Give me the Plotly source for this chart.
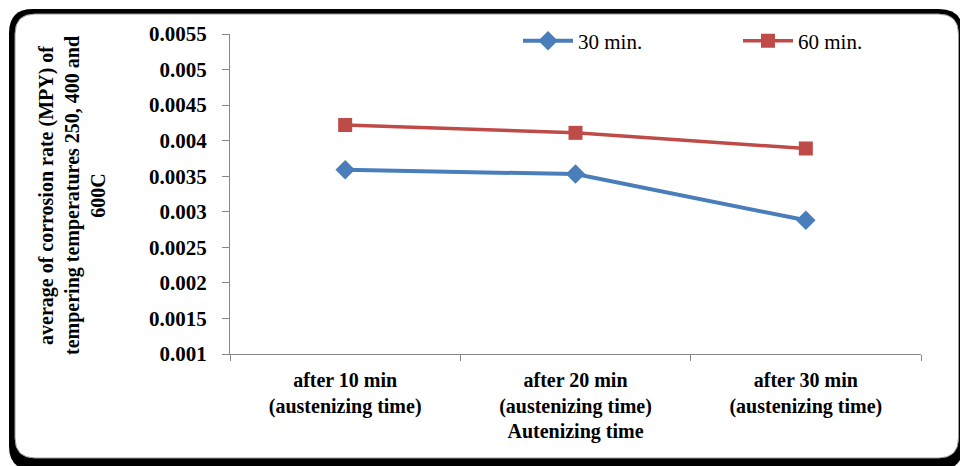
import plotly.graph_objects as go

categories = ["after 10 min<br>(austenizing time)", "after 20 min<br>(austenizing time)", "after 30 min<br>(austenizing time)"]
positions = [1, 2, 3]
series_30 = [0.00359, 0.00353, 0.00288]
series_60 = [0.00422, 0.00411, 0.00389]
y_ticks = [0.001, 0.0015, 0.002, 0.0025, 0.003, 0.0035, 0.004, 0.0045, 0.005, 0.0055]
y_tick_labels = ["0.001", "0.0015", "0.002", "0.0025", "0.003", "0.0035", "0.004", "0.0045", "0.005", "0.0055"]

W, H = 960, 466
L, R, T, B = 230, 921, 34, 354


def px2x(x):
    return (x - L) / (R - L)


def px2y(y):
    return (B - y) / (B - T)


def rounded_path(x0, y0, x1, y1, r):
    def p(x, y):
        return f"{px2x(x):.5f},{px2y(y):.5f}"
    return (f"M {p(x0 + r, y0)} L {p(x1 - r, y0)} Q {p(x1, y0)} {p(x1, y0 + r)} "
            f"L {p(x1, y1 - r)} Q {p(x1, y1)} {p(x1 - r, y1)} "
            f"L {p(x0 + r, y1)} Q {p(x0, y1)} {p(x0, y1 - r)} "
            f"L {p(x0, y0 + r)} Q {p(x0, y0)} {p(x0 + r, y0)} Z")


SERIF = "Liberation Serif"

fig = go.Figure()
fig.add_trace(go.Scatter(
    x=positions, y=series_30, name="30 min.", mode="lines+markers",
    line=dict(color="#4A7EBB", width=4),
    marker=dict(symbol="diamond", size=15, color="#4A7EBB"),
))
fig.add_trace(go.Scatter(
    x=positions, y=series_60, name="60 min.", mode="lines+markers",
    line=dict(color="#BE4B48", width=3.5),
    marker=dict(symbol="square", size=14, color="#BE4B48"),
))

shapes = [
    dict(type="path", xref="paper", yref="paper", layer="below",
         path=rounded_path(9, 9, 963, 470, 24), fillcolor="black", line=dict(width=0)),
    dict(type="path", xref="paper", yref="paper", layer="below",
         path=rounded_path(15, 14, 958.5, 458, 20), fillcolor="white",
         line=dict(color="#9a9a9a", width=1)),
]

annotations = [
    dict(text="average of corrosion rate (MPY) of<br>tempering temperatures 250, 400 and<br>600C",
         xref="paper", yref="paper", x=px2x(72), y=px2y(196), textangle=-90,
         showarrow=False, font=dict(family=SERIF, size=20, color="black", weight="bold"),
         xanchor="center", yanchor="middle", align="center"),
]

fig.update_layout(
    width=W, height=H,
    margin=dict(l=L, r=W - R, t=T, b=H - B, autoexpand=False),
    paper_bgcolor="white", plot_bgcolor="rgba(0,0,0,0)",
    shapes=shapes, annotations=annotations,
    showlegend=True,
    legend=dict(orientation="h", x=px2x(518), y=px2y(41), xanchor="left", yanchor="middle",
                font=dict(family=SERIF, size=21, color="black"),
                entrywidth=155, entrywidthmode="pixels", itemwidth=50,
                bgcolor="rgba(0,0,0,0)"),
    xaxis=dict(range=[0.5, 3.5], tickvals=positions, ticktext=categories,
               ticks="", showgrid=False, zeroline=False,
               showline=True, linecolor="#868686", linewidth=1,
               tickfont=dict(family=SERIF, size=20, color="black", weight="bold"),
               ticklabelstandoff=8,
               minor=dict(tick0=0.5, dtick=1, ticks="outside", ticklen=6, tickcolor="#868686"),
               title=dict(text="Autenizing time", standoff=6,
                          font=dict(family=SERIF, size=20, color="black", weight="bold"))),
    yaxis=dict(range=[0.001, 0.0055], tickvals=y_ticks, ticktext=y_tick_labels,
               ticks="outside", ticklen=7, tickcolor="#868686",
               showgrid=False, zeroline=False, showline=True, linecolor="#868686", linewidth=1,
               tickfont=dict(family=SERIF, size=21, color="black", weight="bold"),
               ticklabelstandoff=11),
)

fig.write_html("out.html")
